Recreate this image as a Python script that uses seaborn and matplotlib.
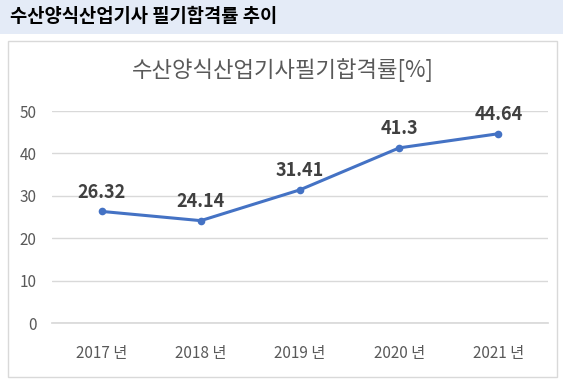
import matplotlib
matplotlib.use("Agg")
import matplotlib.pyplot as plt
import pandas as pd
import seaborn as sns
from matplotlib.patches import Rectangle

# ---------------------------------------------------------------------------
# Data
# ---------------------------------------------------------------------------
years = ["2017 년", "2018 년", "2019 년", "2020 년", "2021 년"]
pass_rates = [26.32, 24.14, 31.41, 41.3, 44.64]
rate_labels = ["26.32", "24.14", "31.41", "41.3", "44.64"]
y_ticks = [0, 10, 20, 30, 40, 50]

header_title = "수산양식산업기사 필기합격률 추이"
chart_title = "수산양식산업기사필기합격률[%]"

# ---------------------------------------------------------------------------
# Style
# ---------------------------------------------------------------------------
sns.set_theme(style="white")
plt.rcParams["font.family"] = ["Noto Sans CJK KR", "DejaVu Sans"]

LINE = "#4472C4"
GRID = "#d9d9d9"
TEXT = "#595959"
LABEL = "#404040"

df = pd.DataFrame({"year": years, "rate": pass_rates})

fig = plt.figure(figsize=(5.63, 3.86), dpi=100)
W, H = 563, 386

# header band + chart frame
fig.patches.append(Rectangle((0, 1 - 34 / H), 1, 34 / H, transform=fig.transFigure,
                             facecolor="#e4ebf7", edgecolor="none", zorder=0))
fig.patches.append(Rectangle((8 / W, 1 - 377 / H), 549 / W, 336 / H,
                             transform=fig.transFigure, facecolor="white",
                             edgecolor=GRID, linewidth=1, zorder=0))
fig.text(10 / W, 1 - 17 / H, header_title, fontsize=13.5, fontweight="bold",
         color="black", ha="left", va="center")
fig.text(283 / W, 1 - 70 / H, chart_title, fontsize=16, color=TEXT,
         ha="center", va="center")

ax = fig.add_axes([52 / W, 1 - 323 / H, 496 / W, 212 / H])
ax.set_zorder(2)
ax.set_facecolor("none")

sns.lineplot(data=df, x="year", y="rate", ax=ax, color=LINE, linewidth=2.2,
             marker="o", markersize=5.5, markeredgewidth=0, sort=False)

for i, (v, lab) in enumerate(zip(pass_rates, rate_labels)):
    ax.annotate(lab, (i, v), xytext=(0, 7), textcoords="offset points",
                ha="center", va="bottom", fontsize=13, fontweight="bold",
                color=LABEL)

ax.set_xlim(-0.5, len(years) - 0.5)
ax.set_ylim(0, 50)
ax.set_yticks(y_ticks)
ax.yaxis.grid(True, color=GRID, linewidth=1)
ax.set_axisbelow(True)
for s in ax.spines.values():
    s.set_visible(False)
ax.spines["bottom"].set_visible(True)
ax.spines["bottom"].set_color(GRID)
ax.tick_params(axis="both", length=0, labelsize=11, labelcolor=TEXT)
ax.tick_params(axis="x", pad=16)
ax.tick_params(axis="y", pad=11)
ax.set_xlabel("")
ax.set_ylabel("")

fig.savefig("out.png", dpi=100)
